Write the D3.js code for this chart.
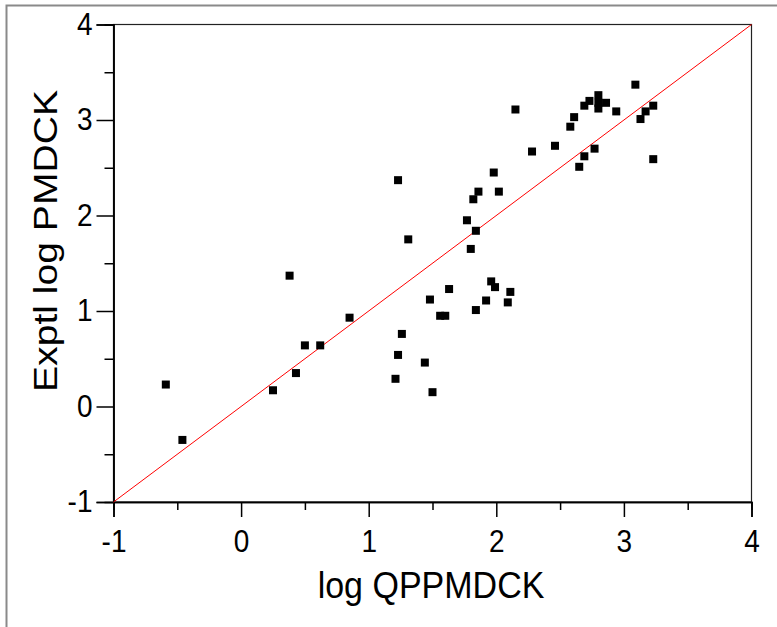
<!DOCTYPE html>
<html lang="en">
  <head>
    <meta charset="utf-8">
    <title>Exptl vs QP log PMDCK</title>
    <script src="https://d3js.org/d3.v7.min.js"></script>
    <style>
      body { margin: 0; background: #fff; }
      svg { font-family: "Liberation Sans", Arial, sans-serif; }
    </style>
  </head>
  <body>
    <svg width="777" height="627"></svg>
    <script>
      // data
      const qpLog = [-0.59, -0.46, 0.25, 0.38, 0.43, 0.50, 0.62, 0.85, 1.21, 1.23,
                     1.23, 1.26, 1.31, 1.44, 1.48, 1.50, 1.56, 1.60, 1.63, 1.84,
                     1.92, 1.96, 1.99, 2.09, 2.11, 1.77, 1.84, 1.80, 1.82, 1.86,
                     1.98, 2.02, 2.15, 2.28, 2.46, 2.58, 2.61, 2.69, 2.73, 2.80,
                     2.80, 2.80, 2.86, 2.94, 3.09, 3.17, 3.23, 3.13, 3.23, 2.65,
                     2.69, 2.77];
      const exptLog = [0.23, -0.35, 0.17, 1.37, 0.35, 0.64, 0.64, 0.93, 0.29, 0.54,
                       2.37, 0.76, 1.75, 0.46, 1.12, 0.15, 0.95, 0.95, 1.23, 1.01,
                       1.11, 1.31, 1.25, 1.09, 1.20, 1.95, 1.84, 1.65, 2.17, 2.25,
                       2.45, 2.25, 3.11, 2.67, 2.73, 2.93, 3.03, 3.15, 3.20, 3.26,
                       3.18, 3.12, 3.18, 3.09, 3.37, 3.09, 3.15, 3.01, 2.59, 2.51,
                       2.62, 2.70];
      const majorTicks = [-1, 0, 1, 2, 3, 4];
      const minorTicks = [-0.5, 0.5, 1.5, 2.5, 3.5];
      const diagonal = [-1, 4];

      const svg = d3.select("svg");
      const mLeft = 113.5, mRight = 751.5, mTop = 24.5, mBottom = 502;
      const stretch = 1.1; // text in the original is a bit taller than wide

      const x = d3.scaleLinear().domain([-1, 4]).range([mLeft, mRight]);
      const y = d3.scaleLinear().domain([-1, 4]).range([mBottom, mTop]);
      const fmt = d => String(d); // plain hyphen minus like the original

      // outer frame of the figure
      svg.append("rect")
        .attr("x", 6.5).attr("y", 5.5)
        .attr("width", 900).attr("height", 900)
        .attr("fill", "none").attr("stroke", "#8a8a8a").attr("stroke-width", 2);

      // plot box
      svg.append("rect")
        .attr("x", mLeft).attr("y", mTop)
        .attr("width", mRight - mLeft).attr("height", mBottom - mTop)
        .attr("fill", "none").attr("stroke", "#222").attr("stroke-width", 1.2);

      // x axis
      const gx = svg.append("g").attr("transform", `translate(0,${mBottom})`);
      gx.call(d3.axisBottom(x).tickValues(minorTicks).tickSize(8).tickFormat(""));
      gx.append("g").call(d3.axisBottom(x).tickValues(majorTicks).tickSize(15).tickPadding(11)
        .tickFormat(fmt));

      // y axis
      const gy = svg.append("g").attr("transform", `translate(${mLeft},0)`);
      gy.call(d3.axisLeft(y).tickValues(minorTicks).tickSize(9).tickFormat(""));
      gy.append("g").call(d3.axisLeft(y).tickValues(majorTicks).tickSize(17).tickPadding(4)
        .tickFormat(fmt));

      svg.selectAll(".domain").attr("stroke", "#000").attr("stroke-width", 1.5);
      svg.selectAll(".tick line").attr("stroke", "#000").attr("stroke-width", 1.5);
      svg.selectAll(".tick text")
        .attr("fill", "#000")
        .attr("transform", `scale(1,${stretch})`)
        .style("font-family", "'Liberation Sans', Arial, sans-serif")
        .style("font-size", "28px");

      // identity line
      svg.append("line")
        .attr("x1", x(diagonal[0])).attr("y1", y(diagonal[0]))
        .attr("x2", x(diagonal[1])).attr("y2", y(diagonal[1]))
        .attr("stroke", "#ff0000").attr("stroke-width", 1);

      // points
      const pts = qpLog.map((v, i) => ({ q: v, e: exptLog[i] }));
      const sz = 8;
      svg.append("g").selectAll("rect")
        .data(pts)
        .join("rect")
        .attr("x", d => x(d.q) - sz / 2)
        .attr("y", d => y(d.e) - sz / 2)
        .attr("width", sz).attr("height", sz)
        .attr("fill", "#000");

      // axis titles
      svg.append("text")
        .attr("transform", `translate(431,598) scale(1,${stretch})`)
        .attr("text-anchor", "middle")
        .style("font-size", "34px")
        .text("log QPPMDCK");

      svg.append("text")
        .attr("transform", "translate(57,241) scale(1,1.15) rotate(-90)")
        .attr("text-anchor", "middle")
        .style("font-size", "34px")
        .text("Exptl log PMDCK");
    </script>
  </body>
</html>
